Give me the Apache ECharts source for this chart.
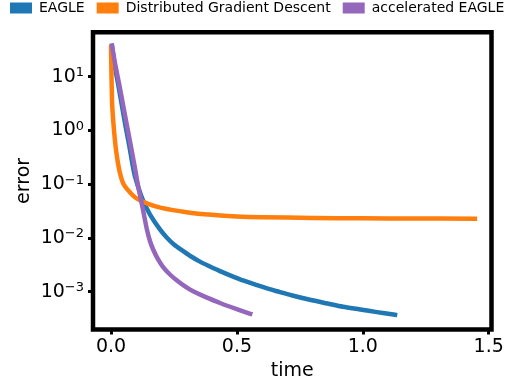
<!DOCTYPE html>
<html>
<head>
<meta charset="utf-8">
<script src="https://cdn.jsdelivr.net/npm/echarts@6/dist/echarts.min.js"></script>
<style>
  html, body { margin: 0; padding: 0; background: #fff; }
  #chart { width: 511px; height: 387px; }
</style>
</head>
<body>
<div id="chart"></div>
<script>
// Convergence of error versus wall-clock time for three methods
const seriesNames = ['EAGLE', 'Distributed Gradient Descent', 'accelerated EAGLE'];
const seriesColors = ['#1f77b4', '#ff7f0e', '#9467bd'];

const eagleTime  = [0.004, 0.015, 0.029, 0.043, 0.057, 0.072, 0.086, 0.096, 0.127, 0.155, 0.195, 0.222, 0.25, 0.286, 0.32, 0.353, 0.393, 0.44, 0.485, 0.524, 0.58, 0.62, 0.659, 0.72, 0.79, 0.86, 0.921, 0.99, 1.056, 1.128];
const eagleError = [37.6, 15.8, 7.0, 2.97, 1.26, 0.537, 0.226, 0.136, 0.050, 0.0272, 0.01426, 0.01012, 0.00759, 0.00575, 0.00447, 0.00363, 0.00295, 0.00234, 0.00191, 0.00162, 0.00132, 0.00115, 0.00102, 0.000851, 0.000708, 0.000603, 0.000525, 0.000468, 0.000417, 0.000372];

const dgdTime  = [0, 0.004, 0.008, 0.016, 0.024, 0.036, 0.05, 0.075, 0.1, 0.15, 0.2, 0.3, 0.4, 0.5, 0.6, 0.8, 1.0, 1.2, 1.445];
const dgdError = [35, 3.67, 1.7, 0.63, 0.316, 0.158, 0.1, 0.0708, 0.055, 0.0427, 0.0363, 0.0302, 0.0269, 0.0251, 0.0243, 0.0236, 0.0232, 0.0230, 0.0228];

const accTime  = [0.004, 0.018, 0.033, 0.048, 0.063, 0.078, 0.093, 0.107, 0.119, 0.131, 0.143, 0.155, 0.167, 0.187, 0.207, 0.234, 0.262, 0.3, 0.326, 0.381, 0.433, 0.473, 0.553];
const accError = [37.6, 15.8, 7.0, 2.97, 1.26, 0.537, 0.226, 0.0955, 0.0513, 0.0269, 0.0141, 0.0087, 0.00617, 0.00398, 0.00288, 0.00209, 0.00162, 0.00120, 0.00102, 0.000776, 0.000617, 0.000525, 0.000389];

const xTicks = [0, 0.5, 1.0, 1.5];
const yTicks = [1e-3, 1e-2, 1e-1, 1, 10];

const FONT = 'DejaVu Sans';

function pairs(xs, ys) {
  return xs.map((x, i) => [x, ys[i]]);
}

function lineSeries(name, color, xs, ys) {
  return {
    name: name,
    type: 'line',
    data: pairs(xs, ys),
    showSymbol: false,
    smooth: 0.3,
    lineStyle: { color: color, width: 4.5, cap: 'square', join: 'round' },
    itemStyle: { color: color },
    emphasis: { disabled: true }
  };
}

function powerLabel(v) {
  const e = Math.round(Math.log10(v));
  const s = e < 0 ? '\u2212' + (-e) : String(e);
  return '{b|10}{s|' + s + '}';
}

const chart = echarts.init(document.getElementById('chart'), null, { renderer: 'canvas' });

chart.setOption({
  animation: false,
  backgroundColor: '#fff',
  textStyle: { fontFamily: FONT },
  legend: {
    data: seriesNames,
    top: 1,
    left: 10,
    padding: 0,
    itemGap: 12,
    itemWidth: 22,
    itemHeight: 11,
    icon: 'rect',
    textStyle: { fontFamily: FONT, fontSize: 14, color: '#000', padding: [0, 0, 0, 2] }
  },
  grid: {
    show: true,
    left: 93,
    right: 19.5,
    top: 32.3,
    bottom: 57.5,
    borderColor: '#000',
    borderWidth: 4.5,
    backgroundColor: 'transparent',
    containLabel: false
  },
  xAxis: {
    type: 'value',
    min: -0.0715,
    max: 1.511,
    name: 'time',
    nameLocation: 'middle',
    nameGap: 28,
    nameTextStyle: { fontFamily: FONT, fontSize: 19, color: '#000' },
    axisLine: { show: false, onZero: false },
    splitLine: { show: false },
    axisTick: {
      show: true,
      inside: false,
      customValues: xTicks,
      length: 5,
      lineStyle: { color: '#000', width: 3 }
    },
    axisLabel: {
      customValues: xTicks,
      margin: 8,
      fontFamily: FONT,
      fontSize: 19,
      color: '#000',
      formatter: v => v.toFixed(1)
    }
  },
  yAxis: {
    type: 'log',
    logBase: 10,
    min: Math.pow(10, -3.703),
    max: Math.pow(10, 1.826),
    name: 'error',
    nameLocation: 'middle',
    nameGap: 59,
    nameMoveOverlap: false,
    nameRotate: 90,
    nameTextStyle: { fontFamily: FONT, fontSize: 19, color: '#000' },
    axisLine: { show: false, onZero: false },
    splitLine: { show: false },
    axisTick: {
      show: true,
      inside: false,
      customValues: yTicks,
      length: 5,
      lineStyle: { color: '#000', width: 3 }
    },
    axisLabel: {
      customValues: yTicks,
      margin: 9,
      color: '#000',
      formatter: powerLabel,
      rich: {
        b: { fontFamily: FONT, fontSize: 19, color: '#000' },
        s: { fontFamily: FONT, fontSize: 13, color: '#000', verticalAlign: 'top', padding: [0, 0, 8, 0] }
      }
    }
  },
  series: [
    lineSeries(seriesNames[0], seriesColors[0], eagleTime, eagleError),
    lineSeries(seriesNames[1], seriesColors[1], dgdTime, dgdError),
    lineSeries(seriesNames[2], seriesColors[2], accTime, accError)
  ]
});
</script>
</body>
</html>
